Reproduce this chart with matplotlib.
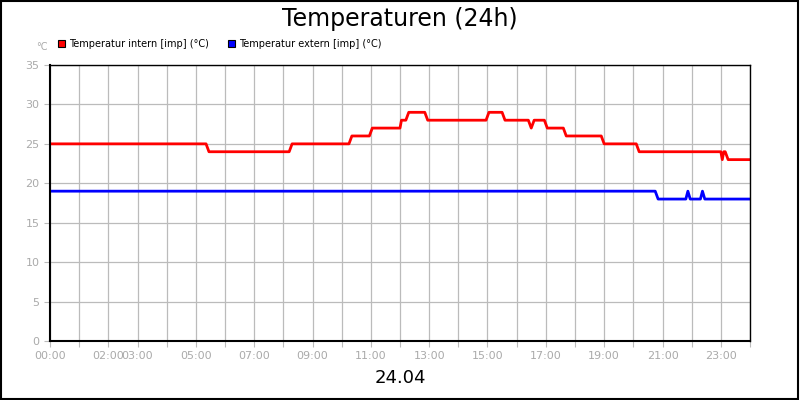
import matplotlib.pyplot as plt
from matplotlib.patches import Rectangle

# hours, values
t_int = [0, 5.35, 5.45, 8.2, 8.3, 10.25, 10.35, 10.95, 11.05, 12.0, 12.05, 12.2, 12.3,
         12.85, 12.95, 14.95, 15.05, 15.5, 15.6, 16.4, 16.5, 16.6, 16.75, 16.95, 17.05,
         17.6, 17.7, 18.9, 19.0, 20.1, 20.2, 23.0, 23.05, 23.1, 23.15, 23.25, 24]
v_int = [25, 25, 24, 24, 25, 25, 26, 26, 27, 27, 28, 28, 29,
         29, 28, 28, 29, 29, 28, 28, 27, 28, 28, 28, 27,
         27, 26, 26, 25, 25, 24, 24, 23, 24, 24, 23, 23]
t_ext = [0, 20.75, 20.85, 21.8, 21.87, 21.95, 22.3, 22.37, 22.45, 24]
v_ext = [19, 19, 18, 18, 19, 18, 18, 19, 18, 18]

hour_ticks = list(range(25))
tick_labels = {0: "00:00", 2: "02:00", 3: "03:00", 5: "05:00", 7: "07:00", 9: "09:00",
               11: "11:00", 13: "13:00", 15: "15:00", 17: "17:00", 19: "19:00",
               21: "21:00", 23: "23:00"}

fig = plt.figure(figsize=(8, 4), dpi=100)
ax = fig.add_axes([0.0625, 0.1475, 0.875, 0.69])
gray = "#bbbbbb"

ax.plot(t_int, v_int, color="red", lw=2)
ax.plot(t_ext, v_ext, color="#0000ff", lw=2)
ax.set_xlim(0, 24)
ax.set_ylim(0, 35)
ax.set_xticks(hour_ticks)
ax.set_xticklabels([tick_labels.get(h, "") for h in hour_ticks])
ax.set_yticks(range(0, 36, 5))
ax.grid(True, color=gray, lw=0.9)
ax.tick_params(colors=gray, labelcolor="#aaaaaa", labelsize=8, length=4)
for s in ["left", "bottom"]:
    ax.spines[s].set_linewidth(1.5)
for s in ["top", "right"]:
    ax.spines[s].set_linewidth(1)

fig.text(0.5, 0.953, "Temperaturen (24h)", ha="center", va="center", fontsize=17)
fig.text(0.5, 0.055, "24.04", ha="center", va="center", fontsize=13)
fig.text(0.045, 0.882, "°C", ha="left", va="center", fontsize=7, color="#aaaaaa")

for x0, col, lab in [(0.072, "red", "Temperatur intern [imp] (°C)"),
                     (0.285, "#0000ff", "Temperatur extern [imp] (°C)")]:
    fig.patches.append(Rectangle((x0, 0.882), 0.009, 0.018, transform=fig.transFigure,
                                 facecolor=col, edgecolor="black", lw=0.8))
    fig.text(x0 + 0.014, 0.891, lab, ha="left", va="center", fontsize=7)

fig.patches.append(Rectangle((0.001, 0.002), 0.997, 0.996, transform=fig.transFigure,
                             fill=False, edgecolor="black", lw=1.5))
fig.savefig("out.png", dpi=100)
